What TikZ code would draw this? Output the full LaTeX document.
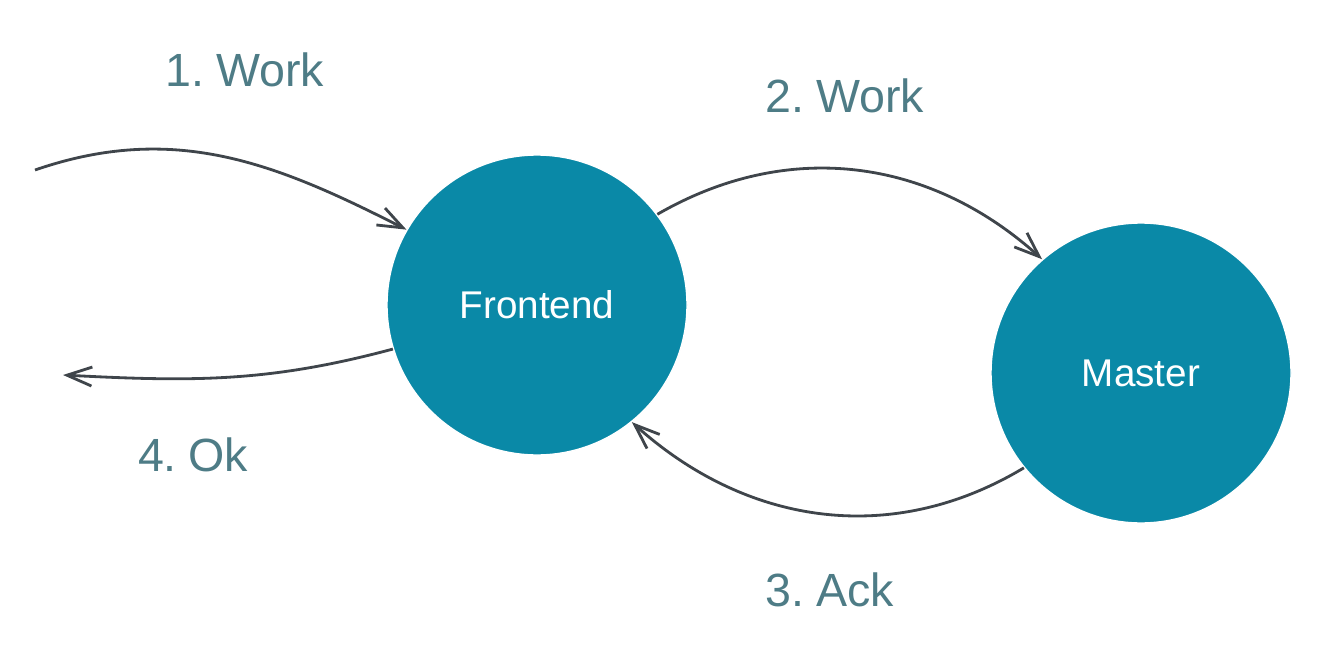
\documentclass[tikz,border=0pt]{standalone}
\usepackage{fontspec}
\setmainfont{Liberation Sans}
\usetikzlibrary{arrows.meta,positioning}
\definecolor{flowTeal}{HTML}{0A89A7}
\definecolor{flowInk}{HTML}{3F454B}
\definecolor{flowLabel}{HTML}{4E7C86}

\begin{document}
\begin{tikzpicture}[
    station/.style={circle,fill=flowTeal,draw=white,line width=0.8pt,
                    minimum size=6cm,inner sep=0pt,text=white,
                    font=\fontsize{22}{26}\selectfont},
    flow/.style={draw=flowInk,line width=1.6pt,
                 -{Straight Barb[length=5mm,width=3.8mm,line width=1.6pt]}},
    tag/.style={text=flowLabel,font=\fontsize{26.5}{32}\selectfont}]

  \useasboundingbox (0,0) rectangle (26.5,13.18);

  \node[station] (front) at (10.74,7.08) {Frontend};
  \node[station] (master) at (22.82,5.72) {Master};

  \coordinate (client in) at (0.7,9.78);
  \coordinate (client out) at (1.26,5.68);

  % request path
  \draw[flow] (client in) to[out=19,in=153] (front.150);
  \draw[flow] (front.37) to[out=30,in=138] (master.131);
  % reply path
  \draw[flow] (master.219) to[out=211,in=-42] (front.309);
  \draw[flow] (front.197) to[out=195,in=-3] (client out);

  \node[tag] (l1) at (4.9,11.78) {1.\kern0.25em Work};
  \node[tag] (l2) at (16.9,11.26) {2.\kern0.25em Work};
  \node[tag] (l3) at (16.6,1.38) {3.\kern0.25em Ack};
  \node[tag] (l4) at (3.86,4.08) {4.\kern0.25em Ok};
\end{tikzpicture}
\end{document}
